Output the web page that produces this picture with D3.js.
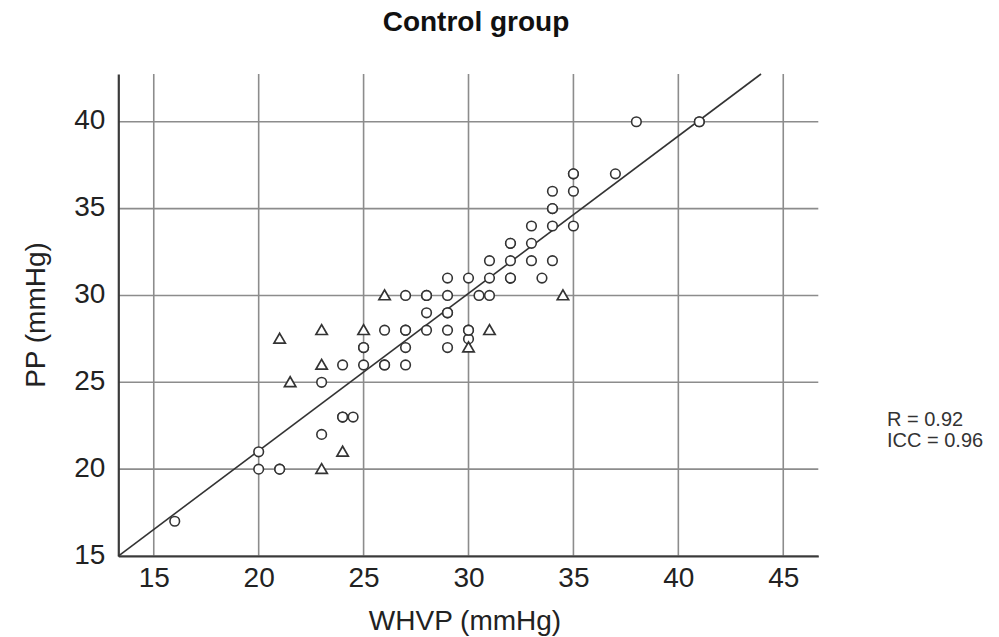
<!DOCTYPE html>
<html>
<head>
<meta charset="utf-8">
<script src="https://cdn.jsdelivr.net/npm/d3@7"></script>
<style>
  body { margin: 0; background: #fff; }
  svg { font-family: "Liberation Sans", Arial, sans-serif; }
  .tick-label { font-size: 28px; fill: #222; }
  .axis-title { font-size: 28px; fill: #222; }
  .stat { font-size: 20px; fill: #333; }
</style>
</head>
<body>
<svg id="chart" width="999" height="637"></svg>
<script>
// circles: WHVP / PP pairs (repeated pairs are overlapping patients)
const circleWhvp = [16, 20, 20, 21, 21, 23, 24, 24, 24.5, 23, 24, 25, 25, 25, 26, 26, 26, 27, 27, 27, 27, 27,
  28, 28, 28, 28, 29, 29, 29, 29, 29, 29, 30, 30, 30, 30, 30.5, 31, 31, 31, 32, 32, 32, 32, 32,
  33, 33, 33, 33.5, 34, 34, 34, 34, 34, 35, 35, 35, 35, 37, 38, 41, 41];
const circlePp = [17, 21, 20, 20, 20, 22, 23, 23, 23, 25, 26, 26, 27, 27, 26, 26, 28, 26, 27, 28, 28, 30,
  28, 29, 30, 30, 27, 28, 29, 29, 30, 31, 27.5, 28, 28, 31, 30, 30, 31, 32, 31, 31, 32, 33, 33,
  32, 33, 34, 31, 32, 34, 35, 35, 36, 34, 36, 37, 37, 37, 40, 40, 40];

// triangles
const triWhvp = [21, 21.5, 23, 23, 23, 24, 25, 26, 30, 31, 34.5];
const triPp   = [27.5, 25, 20, 26, 28, 21, 28, 30, 27, 28, 30];

const xTicks = [15, 20, 25, 30, 35, 40, 45];
const yTicks = [15, 20, 25, 30, 35, 40];

const fitSlope = 0.906;
const fitIntercept = 2.94;

const statLines = ["R = 0.92", "ICC = 0.96"];

const X0 = 118.3, X1 = 818.3, Y0 = 556, Y1 = 74;

const x = d3.scaleLinear().domain([13.31, 46.67]).range([X0, X1]);
const y = d3.scaleLinear().domain([15, 42.75]).range([Y0, Y1]);

const svg = d3.select("#chart");

// grid
const grid = svg.append("g");
grid.selectAll("line.vg").data(xTicks).join("line")
  .attr("x1", d => x(d)).attr("x2", d => x(d))
  .attr("y1", Y0).attr("y2", Y1)
  .attr("stroke", "#8c8c8c").attr("stroke-width", 1.6);
grid.selectAll("line.hg").data(yTicks).join("line")
  .attr("x1", X0).attr("x2", X1)
  .attr("y1", d => y(d)).attr("y2", d => y(d))
  .attr("stroke", "#8c8c8c").attr("stroke-width", 1.6);

// axes
const xAxis = svg.append("g")
  .attr("transform", `translate(0,${Y0})`)
  .call(d3.axisBottom(x).tickValues(xTicks).tickSize(0).tickPadding(11));
const yAxis = svg.append("g")
  .attr("transform", `translate(${X0},0)`)
  .call(d3.axisLeft(y).tickValues(yTicks).tickSize(0).tickPadding(13));

[xAxis, yAxis].forEach(a => {
  a.select(".domain").attr("stroke", "#3a3a3a").attr("stroke-width", 2.2);
  a.selectAll("text").attr("class", "tick-label").attr("font-family", null).attr("font-size", null);
});
xAxis.selectAll("text").attr("dy", "0.72em");
yAxis.selectAll("text").attr("dy", "0.25em");

// fit line
const fitX = [13.31, (42.75 - fitIntercept) / fitSlope];
svg.append("line")
  .attr("x1", x(fitX[0])).attr("y1", y(fitSlope * fitX[0] + fitIntercept))
  .attr("x2", x(fitX[1])).attr("y2", y(fitSlope * fitX[1] + fitIntercept))
  .attr("stroke", "#333").attr("stroke-width", 1.6);

// markers
const circles = circleWhvp.map((v, i) => ({ w: v, p: circlePp[i] }));
const tris = triWhvp.map((v, i) => ({ w: v, p: triPp[i] }));

svg.append("g").selectAll("circle").data(circles).join("circle")
  .attr("cx", d => x(d.w)).attr("cy", d => y(d.p)).attr("r", 4.8)
  .attr("fill", "#fff").attr("stroke", "#333").attr("stroke-width", 1.6);

const triPath = d3.symbol().type(d3.symbolTriangle).size(56);
svg.append("g").selectAll("path").data(tris).join("path")
  .attr("transform", d => `translate(${x(d.w)},${y(d.p) + 1})`)
  .attr("d", triPath)
  .attr("fill", "#fff").attr("stroke", "#333").attr("stroke-width", 1.7);

// titles
svg.append("text")
  .attr("x", 476).attr("y", 31)
  .attr("text-anchor", "middle")
  .attr("font-size", 28).attr("font-weight", "bold").attr("fill", "#111")
  .text("Control group");

svg.append("text").attr("class", "axis-title")
  .attr("x", 465).attr("y", 630)
  .attr("text-anchor", "middle")
  .text("WHVP (mmHg)");

svg.append("text").attr("class", "axis-title")
  .attr("transform", `translate(45,315) rotate(-90)`)
  .attr("text-anchor", "middle")
  .text("PP (mmHg)");

svg.append("g").selectAll("text").data(statLines).join("text")
  .attr("class", "stat")
  .attr("x", 887).attr("y", (d, i) => 426 + i * 21)
  .text(d => d);
</script>
</body>
</html>
